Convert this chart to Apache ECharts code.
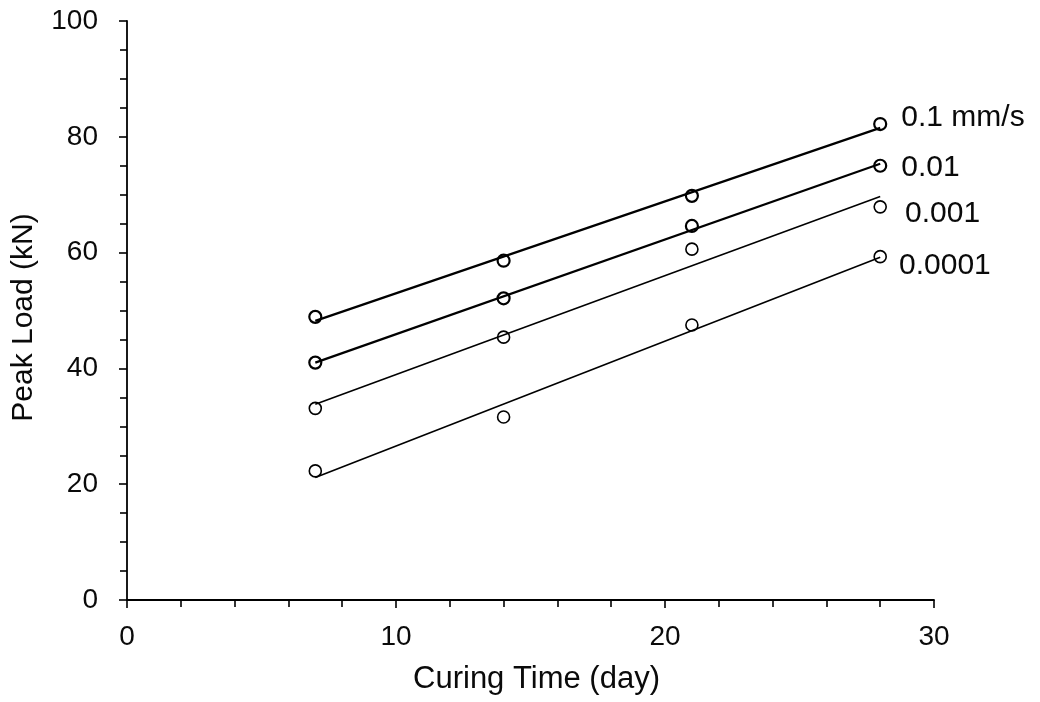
<!DOCTYPE html>
<html>
<head>
<meta charset="utf-8">
<script src="https://cdn.jsdelivr.net/npm/echarts@6/dist/echarts.min.js"></script>
<style>
  html, body { margin: 0; padding: 0; background: #fff; }
  #chart { width: 1040px; height: 702px; }
</style>
</head>
<body>
<div id="chart"></div>
<script>
// Curing time (days) at which specimens were tested
const curingDays = [7, 14, 21, 28];

// Peak load (kN) for each loading rate
const load_0_1 = [48.9, 58.6, 69.8, 82.2];
const load_0_01 = [41.0, 52.1, 64.6, 75.0];
const load_0_001 = [33.1, 45.4, 60.6, 67.9];
const load_0_0001 = [22.3, 31.6, 47.5, 59.3];

// Loading-rate labels shown beside each series
const rateLabels = ['0.1 mm/s', '0.01', '0.001', '0.0001'];

const FONT = '"Liberation Sans", Arial, sans-serif';
const INK = '#0a0a0a';

// Least-squares straight line through one series, evaluated at first and last day
function trendLine(xs, ys) {
  const n = xs.length;
  const mx = xs.reduce((a, b) => a + b, 0) / n;
  const my = ys.reduce((a, b) => a + b, 0) / n;
  let sxy = 0, sxx = 0;
  for (let i = 0; i < n; i++) {
    sxy += (xs[i] - mx) * (ys[i] - my);
    sxx += (xs[i] - mx) * (xs[i] - mx);
  }
  const slope = sxy / sxx;
  const x0 = xs[0], x1 = xs[n - 1];
  return [[x0, my + slope * (x0 - mx)], [x1, my + slope * (x1 - mx)]];
}

const groups = [
  { values: load_0_1, label: rateLabels[0], width: 2.2, offset: [0, -6] },
  { values: load_0_01, label: rateLabels[1], width: 2.2, offset: [0, 2] },
  { values: load_0_001, label: rateLabels[2], width: 1.6, offset: [4, 7] },
  { values: load_0_0001, label: rateLabels[3], width: 1.6, offset: [-2, 9] }
];

const series = [];
groups.forEach(g => {
  series.push({
    type: 'line',
    data: trendLine(curingDays, g.values),
    symbol: 'none',
    silent: true,
    lineStyle: { color: '#000', width: g.width },
    z: 2
  });
});
groups.forEach(g => {
  const pts = curingDays.map((d, i) => [d, g.values[i]]);
  series.push({
    type: 'scatter',
    data: pts.map((p, i) => i === pts.length - 1 ? {
      value: p,
      label: {
        show: true,
        formatter: g.label,
        position: 'right',
        distance: 14,
        offset: g.offset,
        color: INK,
        opacity: 1,
        fontSize: 30,
        fontFamily: FONT
      }
    } : p),
    symbol: 'circle',
    symbolSize: 12,
    itemStyle: { color: 'rgba(0,0,0,0)', borderColor: '#000', borderWidth: g.width, opacity: 1 },
    z: 3
  });
});

const chart = echarts.init(document.getElementById('chart'), null, { renderer: 'canvas' });
chart.setOption({
  animation: false,
  backgroundColor: '#fff',
  grid: { left: 127, right: 106, top: 21, bottom: 102, containLabel: false },
  xAxis: {
    type: 'value',
    min: 0, max: 30, interval: 10,
    name: 'Curing Time (day)',
    nameLocation: 'middle',
    nameGap: 64,
    nameTextStyle: { color: INK, fontSize: 31, fontFamily: FONT, padding: [0, 0, 0, 12] },
    axisLine: { show: true, onZero: false, lineStyle: { color: '#000', width: 1.8 } },
    axisTick: { show: true, length: 8, lineStyle: { color: '#000', width: 1.6 } },
    minorTick: { show: true, splitNumber: 5, length: 7, lineStyle: { color: '#000', width: 1.6 } },
    axisLabel: { color: INK, fontSize: 28, fontFamily: FONT, margin: 23 },
    splitLine: { show: false }
  },
  yAxis: {
    type: 'value',
    min: 0, max: 100, interval: 20,
    name: 'Peak Load (kN)',
    nameLocation: 'middle',
    nameGap: 88,
    nameTextStyle: { color: INK, fontSize: 30, fontFamily: FONT, padding: [0, 14, 0, 0] },
    axisLine: { show: true, onZero: false, lineStyle: { color: '#000', width: 1.8 } },
    axisTick: { show: true, length: 8, lineStyle: { color: '#000', width: 1.6 } },
    minorTick: { show: true, splitNumber: 4, length: 7, lineStyle: { color: '#000', width: 1.6 } },
    axisLabel: { color: INK, fontSize: 28, fontFamily: FONT, margin: 29 },
    splitLine: { show: false }
  },
  series: series
});
</script>
</body>
</html>
